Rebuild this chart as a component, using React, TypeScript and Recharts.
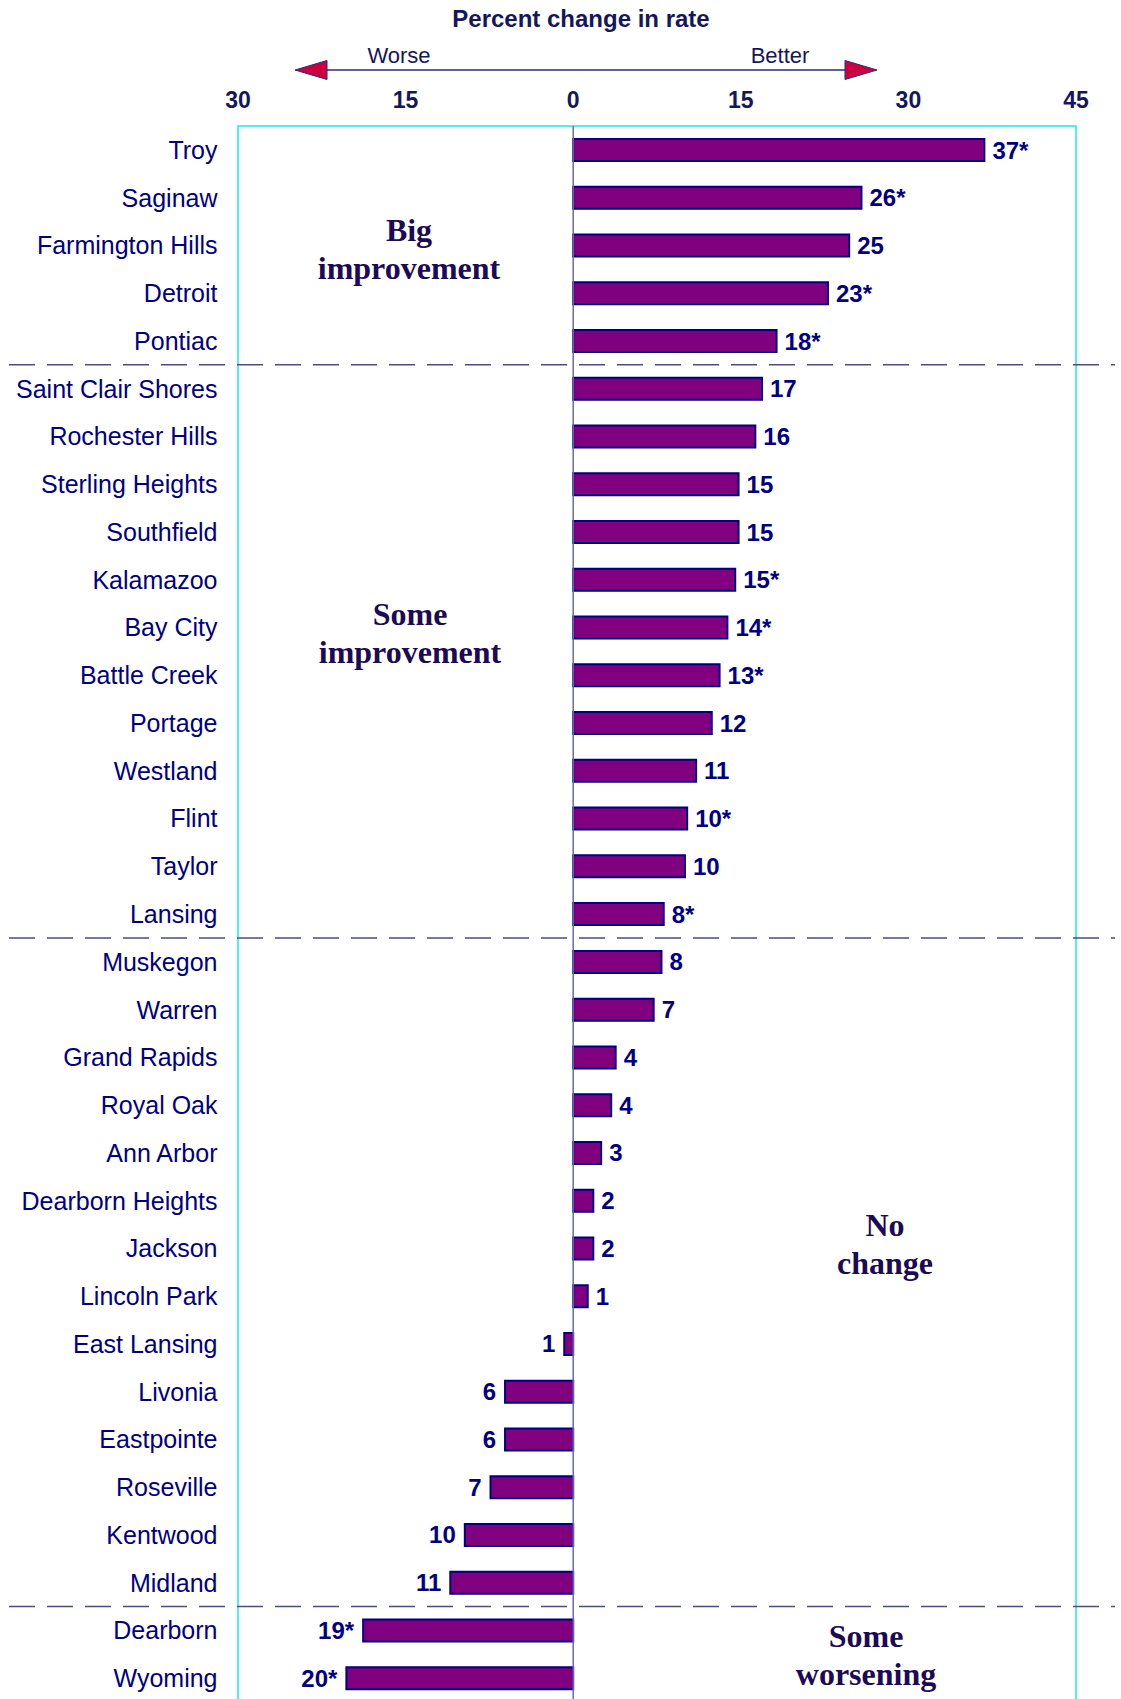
import React from 'react';
import { BarChart, Bar, XAxis, YAxis, ReferenceLine, ReferenceArea, LabelList } from 'recharts';

const cities = [
  'Troy', 'Saginaw', 'Farmington Hills', 'Detroit', 'Pontiac',
  'Saint Clair Shores', 'Rochester Hills', 'Sterling Heights', 'Southfield', 'Kalamazoo',
  'Bay City', 'Battle Creek', 'Portage', 'Westland', 'Flint', 'Taylor', 'Lansing',
  'Muskegon', 'Warren', 'Grand Rapids', 'Royal Oak', 'Ann Arbor', 'Dearborn Heights',
  'Jackson', 'Lincoln Park', 'East Lansing', 'Livonia', 'Eastpointe', 'Roseville',
  'Kentwood', 'Midland',
  'Dearborn', 'Wyoming',
];

const values = [
  36.8, 25.8, 24.7, 22.8, 18.2,
  16.9, 16.3, 14.8, 14.8, 14.5, 13.8, 13.1, 12.4, 11.0, 10.2, 10.0, 8.1,
  7.9, 7.2, 3.8, 3.4, 2.5, 1.8, 1.8, 1.3, -0.8, -6.1, -6.1, -7.4, -9.7, -11.0,
  -18.8, -20.3,
];

const valueLabels = [
  '37*', '26*', '25', '23*', '18*',
  '17', '16', '15', '15', '15*', '14*', '13*', '12', '11', '10*', '10', '8*',
  '8', '7', '4', '4', '3', '2', '2', '1', '1', '6', '6', '7', '10', '11',
  '19*', '20*',
];

const groupSizes = [5, 12, 14, 2];
const xTicks = [-30, -15, 0, 15, 30, 45];
const xDomain = [-30, 45];
const chartTitle = 'Percent change in rate';
const worseText = 'Worse';
const betterText = 'Better';
const regionTexts = [
  ['Big', 'improvement'],
  ['Some', 'improvement'],
  ['No', 'change'],
  ['Some', 'worsening'],
];

const data = cities.map((city, i) => ({ city, value: values[i], label: valueLabels[i] }));
// last city of each group except the final group
const groupEnds = groupSizes.slice(0, -1).reduce((acc, n) => {
  acc.push((acc.length ? acc[acc.length - 1] : 0) + n);
  return acc;
}, [] as number[]).map((k) => cities[k - 1]);

const SANS = '"Liberation Sans", Arial, sans-serif';
const SERIF = '"Liberation Serif", "Times New Roman", serif';
const NAVY = '#000080';
const DARK = '#16165c';
const REGION = '#1c0a55';

const CHART_H = 1702;
const PLOT_TOP = 126;
const BAND = (CHART_H - PLOT_TOP) / cities.length;

const regionPos = [
  { x: 409, y: 230 },
  { x: 410, y: 614 },
  { x: 885, y: 1225 },
  { x: 866, y: 1636 },
];

const CityTick = (props: any) => {
  const { x, y, payload } = props;
  return (
    <text x={x - 12.5} y={y} textAnchor="end" dominantBaseline="central"
      fontFamily={SANS} fontSize={25} fill={NAVY}>
      {payload.value}
    </text>
  );
};

const TopTick = (props: any) => {
  const { x, payload } = props;
  return (
    <text x={x} y={100} textAnchor="middle" dominantBaseline="central"
      fontFamily={SANS} fontSize={23} fontWeight="bold" fill={DARK}>
      {Math.abs(payload.value)}
    </text>
  );
};

const ValueLabel = (props: any) => {
  const { x, y, width, height, value, index } = props;
  const v = values[index];
  const left = Math.min(x, x + width);
  const right = Math.max(x, x + width);
  const cy = y + height / 2;
  const neg = v < 0;
  return (
    <text x={neg ? left - 9 : right + 8} y={cy} textAnchor={neg ? 'end' : 'start'}
      dominantBaseline="central" fontFamily={SANS} fontSize={24} fontWeight="bold" fill={NAVY}>
      {value}
    </text>
  );
};

const DashShape = (props: any) => {
  const { y1 } = props;
  const y = y1 + BAND / 2;
  return (
    <line x1={9} x2={1115} y1={y} y2={y} stroke="#4c4c80" strokeWidth={1.5}
      strokeDasharray="26 12" />
  );
};

export default function App() {
  return (
    <div style={{ position: 'absolute', left: 0, top: 0, width: 1121, height: 1699, overflow: 'hidden', background: '#fff' }}>
      <BarChart
        width={1121}
        height={CHART_H}
        data={data}
        layout="vertical"
        margin={{ top: PLOT_TOP - 40, right: 45, bottom: 0, left: 8 }}
      >
        <XAxis type="number" orientation="top" domain={xDomain} ticks={xTicks}
          allowDataOverflow axisLine={false} tickLine={false} height={40} tick={<TopTick />} interval={0} />
        <YAxis type="category" dataKey="city" width={230} axisLine={false} tickLine={false}
          tick={<CityTick />} interval={0} />
        <ReferenceArea x1={xDomain[0]} x2={xDomain[1]} fill="none" fillOpacity={0}
          stroke="#1ee8f2" strokeWidth={1.5} ifOverflow="visible" />
        <ReferenceLine x={0} stroke="#6a6aaa" strokeWidth={1.5} />
        {groupEnds.map((c) => (
          <ReferenceLine key={c} y={c} ifOverflow="visible" shape={<DashShape />} />
        ))}
        <Bar dataKey="value" barSize={22} fill="#800080" stroke={NAVY} strokeWidth={2}
          isAnimationActive={false}>
          <LabelList dataKey="label" content={<ValueLabel />} />
        </Bar>
      </BarChart>
      <svg width={1121} height={1699} style={{ position: 'absolute', left: 0, top: 0, pointerEvents: 'none' }}>
        <text x={581} y={18} textAnchor="middle" dominantBaseline="central" fontFamily={SANS}
          fontSize={24} fontWeight="bold" fill={DARK}>{chartTitle}</text>
        <text x={399} y={55} textAnchor="middle" dominantBaseline="central" fontFamily={SANS}
          fontSize={22} fill={DARK}>{worseText}</text>
        <text x={780} y={55} textAnchor="middle" dominantBaseline="central" fontFamily={SANS}
          fontSize={22} fill={DARK}>{betterText}</text>
        <line x1={325} x2={847} y1={70} y2={70} stroke="#2a2a7a" strokeWidth={1.5} />
        <polygon points="295,70 327,60.5 327,79.5" fill="#cc0040" stroke="#2a2a7a" strokeWidth={1} />
        <polygon points="877,70 845,60.5 845,79.5" fill="#cc0040" stroke="#2a2a7a" strokeWidth={1} />
        {regionTexts.map((lines, i) => (
          <text key={i} x={regionPos[i].x} y={regionPos[i].y} textAnchor="middle"
            fontFamily={SERIF} fontSize={32} fontWeight="bold" fill={REGION}>
            {lines.map((l, j) => (
              <tspan key={j} x={regionPos[i].x} y={regionPos[i].y + j * 38} dominantBaseline="central">{l}</tspan>
            ))}
          </text>
        ))}
      </svg>
    </div>
  );
}
